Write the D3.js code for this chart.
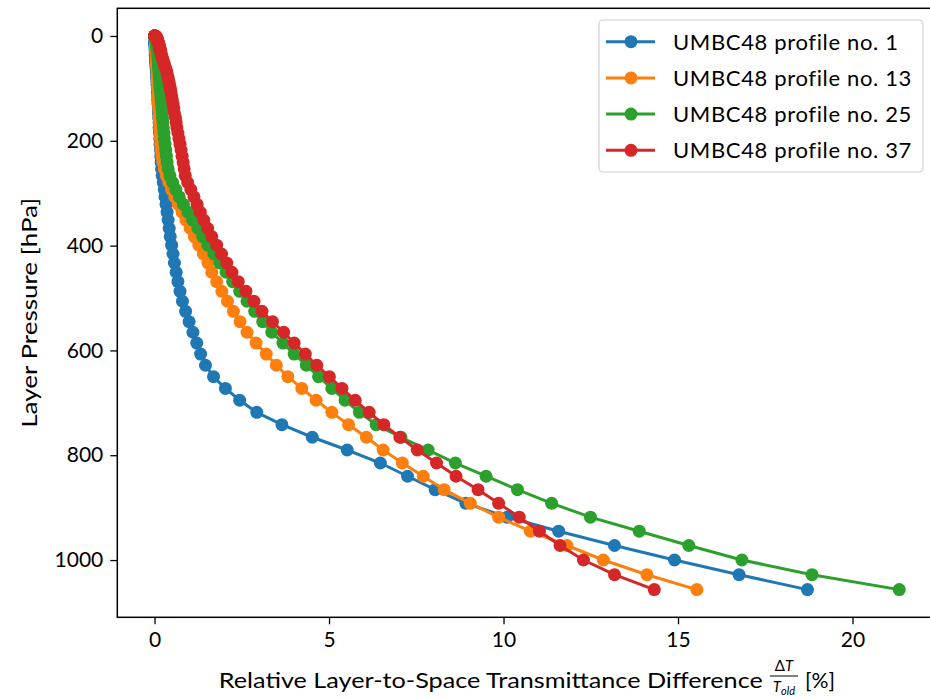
<!DOCTYPE html>
<html>
<head>
<meta charset="utf-8">
<script src="https://cdn.jsdelivr.net/npm/d3@7/dist/d3.min.js"></script>
<style>
  body { margin: 0; background: #fff; }
  text { font-family: Lato, "Open Sans", sans-serif; fill: #000; }
</style>
</head>
<body>
<svg id="chart" width="930" height="699"></svg>
<script>
// layer pressures [hPa], top of atmosphere first
const pressure = [
  0.011, 0.027, 0.058, 0.107, 0.181, 0.285, 0.426, 0.610, 0.845, 1.136,
  1.492, 1.920, 2.427, 3.020, 3.708, 4.499, 5.399, 6.417, 7.561, 8.839,
  10.26, 11.83, 13.55, 15.44, 17.51, 19.75, 22.19, 24.82, 27.65, 30.70,
  33.96, 37.45, 41.18, 45.14, 49.36, 53.83, 58.56, 63.56, 68.83, 74.39,
  80.24, 86.38, 92.82, 99.57, 106.63, 114.01, 121.71, 129.75, 138.12, 146.83,
  155.88, 165.29, 175.05, 185.17, 195.65, 206.51, 217.74, 229.34, 241.32, 253.69,
  266.44, 279.59, 293.13, 307.07, 321.41, 336.15, 351.29, 366.85, 382.81, 399.18,
  415.97, 433.18, 450.80, 468.84, 487.30, 506.18, 525.48, 545.20, 565.35, 585.92,
  606.91, 628.33, 650.17, 672.43, 695.12, 718.22, 741.75, 765.70, 790.07, 814.86,
  840.07, 865.68, 891.71, 918.15, 945.00, 972.26, 999.92, 1027.97, 1056.43
];

// relative layer-to-space transmittance difference [%]
const profile1 = [
  0.00, 0.00, 0.00, 0.00, 0.00, 0.00, 0.00, 0.00, 0.00, 0.00,
  0.00, 0.00, 0.00, 0.01, 0.01, 0.01, 0.01, 0.01, 0.01, 0.01,
  0.01, 0.01, 0.01, 0.01, 0.01, 0.02, 0.02, 0.02, 0.02, 0.02,
  0.02, 0.02, 0.03, 0.03, 0.03, 0.04, 0.04, 0.05, 0.05, 0.06,
  0.06, 0.07, 0.07, 0.08, 0.08, 0.09, 0.09, 0.10, 0.11, 0.11,
  0.12, 0.13, 0.13, 0.14, 0.15, 0.16, 0.17, 0.18, 0.19, 0.20,
  0.22, 0.25, 0.28, 0.30, 0.33, 0.36, 0.39, 0.42, 0.45, 0.49,
  0.53, 0.57, 0.62, 0.67, 0.73, 0.80, 0.89, 0.99, 1.10, 1.21,
  1.32, 1.46, 1.69, 2.03, 2.44, 2.93, 3.65, 4.52, 5.52, 6.47,
  7.25, 8.04, 8.92, 10.10, 11.58, 13.18, 14.90, 16.75, 18.71
];
const profile13 = [
  0.00, 0.00, 0.00, 0.00, 0.00, 0.01, 0.01, 0.01, 0.01, 0.01,
  0.01, 0.01, 0.01, 0.01, 0.01, 0.02, 0.02, 0.02, 0.02, 0.02,
  0.03, 0.03, 0.03, 0.03, 0.03, 0.04, 0.04, 0.04, 0.04, 0.04,
  0.05, 0.05, 0.05, 0.06, 0.06, 0.06, 0.07, 0.07, 0.07, 0.08,
  0.08, 0.08, 0.09, 0.09, 0.10, 0.10, 0.11, 0.11, 0.12, 0.13,
  0.13, 0.14, 0.15, 0.16, 0.17, 0.18, 0.19, 0.21, 0.24, 0.28,
  0.34, 0.41, 0.49, 0.58, 0.68, 0.79, 0.90, 1.02, 1.14, 1.27,
  1.40, 1.53, 1.64, 1.78, 1.93, 2.09, 2.26, 2.45, 2.65, 2.91,
  3.20, 3.49, 3.82, 4.22, 4.63, 5.08, 5.56, 6.07, 6.55, 7.10,
  7.70, 8.30, 9.05, 9.86, 10.77, 11.82, 12.86, 14.11, 15.54
];
const profile25 = [
  0.00, 0.00, 0.00, 0.00, 0.01, 0.01, 0.01, 0.01, 0.01, 0.02,
  0.02, 0.02, 0.02, 0.03, 0.03, 0.03, 0.03, 0.04, 0.04, 0.04,
  0.05, 0.05, 0.05, 0.06, 0.06, 0.06, 0.07, 0.07, 0.08, 0.08,
  0.09, 0.09, 0.10, 0.10, 0.11, 0.11, 0.12, 0.12, 0.13, 0.13,
  0.14, 0.15, 0.15, 0.16, 0.17, 0.18, 0.19, 0.20, 0.21, 0.22,
  0.23, 0.24, 0.25, 0.27, 0.28, 0.30, 0.32, 0.34, 0.36, 0.39,
  0.44, 0.52, 0.61, 0.71, 0.83, 0.96, 1.09, 1.24, 1.38, 1.53,
  1.70, 1.87, 2.05, 2.24, 2.44, 2.65, 2.87, 3.10, 3.36, 3.68,
  4.00, 4.35, 4.70, 5.08, 5.46, 5.87, 6.35, 7.06, 7.84, 8.62,
  9.50, 10.40, 11.38, 12.49, 13.89, 15.31, 16.83, 18.84, 21.34
];
const profile37 = [
  0.01, 0.01, 0.01, 0.02, 0.02, 0.02, 0.03, 0.03, 0.03, 0.04,
  0.04, 0.05, 0.05, 0.06, 0.06, 0.07, 0.07, 0.08, 0.08, 0.09,
  0.10, 0.10, 0.11, 0.12, 0.13, 0.14, 0.15, 0.16, 0.17, 0.18,
  0.19, 0.20, 0.22, 0.24, 0.26, 0.28, 0.30, 0.33, 0.35, 0.37,
  0.39, 0.41, 0.43, 0.45, 0.47, 0.49, 0.51, 0.53, 0.55, 0.57,
  0.60, 0.62, 0.64, 0.67, 0.70, 0.73, 0.76, 0.79, 0.82, 0.85,
  0.88, 0.95, 1.04, 1.13, 1.22, 1.31, 1.41, 1.52, 1.64, 1.78,
  1.92, 2.07, 2.22, 2.40, 2.62, 2.85, 3.08, 3.38, 3.70, 4.00,
  4.32, 4.65, 5.01, 5.37, 5.75, 6.15, 6.57, 7.03, 7.53, 8.08,
  8.64, 9.27, 9.86, 10.45, 11.03, 11.62, 12.29, 13.18, 14.32
];

const seriesNames = ["UMBC48 profile no. 1", "UMBC48 profile no. 13", "UMBC48 profile no. 25", "UMBC48 profile no. 37"];
const seriesColors = ["#1f77b4", "#ff7f0e", "#2ca02c", "#d62728"];
const xTicks = [0, 5, 10, 15, 20];
const yTicks = [0, 200, 400, 600, 800, 1000];

const series = [profile1, profile13, profile25, profile37].map((vals, i) => ({
  name: seriesNames[i],
  color: seriesColors[i],
  points: vals.map((v, j) => ({ v: v, p: pressure[j] }))
}));

// axes box (right edge falls just outside the picture)
const box = { left: 117.3, right: 936.5, top: 8.3, bottom: 617.3 };

const svg = d3.select("#chart");

// matplotlib-like 5% margins
let xMax = d3.max(series, s => d3.max(s.points, d => d.v));
let xMin = 0;
let xPad = (xMax - xMin) * 0.05;
let yMin = d3.min(pressure), yMax = d3.max(pressure);
let yPad = (yMax - yMin) * 0.05;

const x = d3.scaleLinear().domain([xMin - xPad, xMax + xPad]).range([box.left, box.right]);
const y = d3.scaleLinear().domain([yMin - yPad, yMax + yPad]).range([box.top, box.bottom]);

// x axis
let xAxis = svg.append("g")
  .attr("transform", "translate(0," + box.bottom + ")")
  .call(d3.axisBottom(x).tickValues(xTicks).tickSize(7).tickPadding(6).tickFormat(d3.format("d")));
xAxis.select(".domain").remove();
xAxis.selectAll(".tick line").attr("stroke", "#000").attr("stroke-width", 1.3);
xAxis.selectAll(".tick text").style("font-size", "21px").attr("dy", "0.8em");

// y axis
let yAxis = svg.append("g")
  .attr("transform", "translate(" + box.left + ",0)")
  .call(d3.axisLeft(y).tickValues(yTicks).tickSize(7).tickPadding(7).tickFormat(d3.format("d")));
yAxis.select(".domain").remove();
yAxis.selectAll(".tick line").attr("stroke", "#000").attr("stroke-width", 1.3);
yAxis.selectAll(".tick text").style("font-size", "21px");

// lines + markers, one series at a time
const line = d3.line().x(d => x(d.v)).y(d => y(d.p));
series.forEach(s => {
  let g = svg.append("g");
  g.append("path")
    .datum(s.points)
    .attr("fill", "none")
    .attr("stroke", s.color)
    .attr("stroke-width", 3)
    .attr("d", line);
  g.selectAll("circle")
    .data(s.points)
    .enter().append("circle")
    .attr("cx", d => x(d.v))
    .attr("cy", d => y(d.p))
    .attr("r", 6.5)
    .attr("fill", s.color);
});

// frame
svg.append("rect")
  .attr("x", box.left).attr("y", box.top)
  .attr("width", box.right - box.left).attr("height", box.bottom - box.top)
  .attr("fill", "none").attr("stroke", "#000").attr("stroke-width", 1.5);

// legend
let legend = svg.append("g");
legend.append("rect")
  .attr("x", 599).attr("y", 20).attr("width", 324).attr("height", 152)
  .attr("rx", 4).attr("fill", "#fff").attr("fill-opacity", 0.8)
  .attr("stroke", "#d0d0d0").attr("stroke-width", 1.2);
series.forEach((s, i) => {
  let cy = 41.7 + i * 36.2;
  legend.append("line").attr("x1", 606).attr("x2", 655).attr("y1", cy).attr("y2", cy)
    .attr("stroke", s.color).attr("stroke-width", 3);
  legend.append("circle").attr("cx", 631).attr("cy", cy).attr("r", 6.5).attr("fill", s.color);
  legend.append("text").attr("x", 673).attr("y", cy + 8)
    .style("font-size", "22px").style("letter-spacing", "0.65px").text(s.name);
});

// y label
svg.append("text")
  .attr("transform", "translate(37," + ((box.top + box.bottom) / 2) + ") rotate(-90)")
  .attr("text-anchor", "middle")
  .attr("textLength", 230).attr("lengthAdjust", "spacingAndGlyphs")
  .style("font-size", "22px")
  .text("Layer Pressure [hPa]");

// x label with fraction
let xl = svg.append("g");
let main = xl.append("text").attr("y", 688).style("font-size", "22px")
  .attr("textLength", 544).attr("lengthAdjust", "spacingAndGlyphs")
  .text("Relative Layer-to-Space Transmittance Difference");
let num = xl.append("text").attr("y", 671).attr("text-anchor", "middle").style("font-size", "15px");
num.append("tspan").text("\u0394");
num.append("tspan").style("font-style", "italic").text("T");
let den = xl.append("text").attr("y", 692).attr("text-anchor", "middle").style("font-size", "15px");
den.append("tspan").style("font-style", "italic").text("T");
den.append("tspan").attr("dy", 3).style("font-size", "11px").style("font-style", "italic").text("old");
let pct = xl.append("text").attr("y", 688).style("font-size", "22px")
  .attr("textLength", 30).attr("lengthAdjust", "spacingAndGlyphs").text("[%]");

let wMain = 544;
let wFrac = Math.max(num.node().getComputedTextLength(), den.node().getComputedTextLength()) + 6;
let wPct = 30;
let gap = 7;
let total = wMain + gap + wFrac + gap + wPct;
let startX = (box.left + box.right) / 2 - total / 2;
main.attr("x", startX);
let fracC = startX + wMain + gap + wFrac / 2;
num.attr("x", fracC);
den.attr("x", fracC);
xl.append("line").attr("x1", fracC - wFrac / 2).attr("x2", fracC + wFrac / 2)
  .attr("y1", 676).attr("y2", 676).attr("stroke", "#000").attr("stroke-width", 1);
pct.attr("x", startX + wMain + gap + wFrac + gap);
</script>
</body>
</html>
